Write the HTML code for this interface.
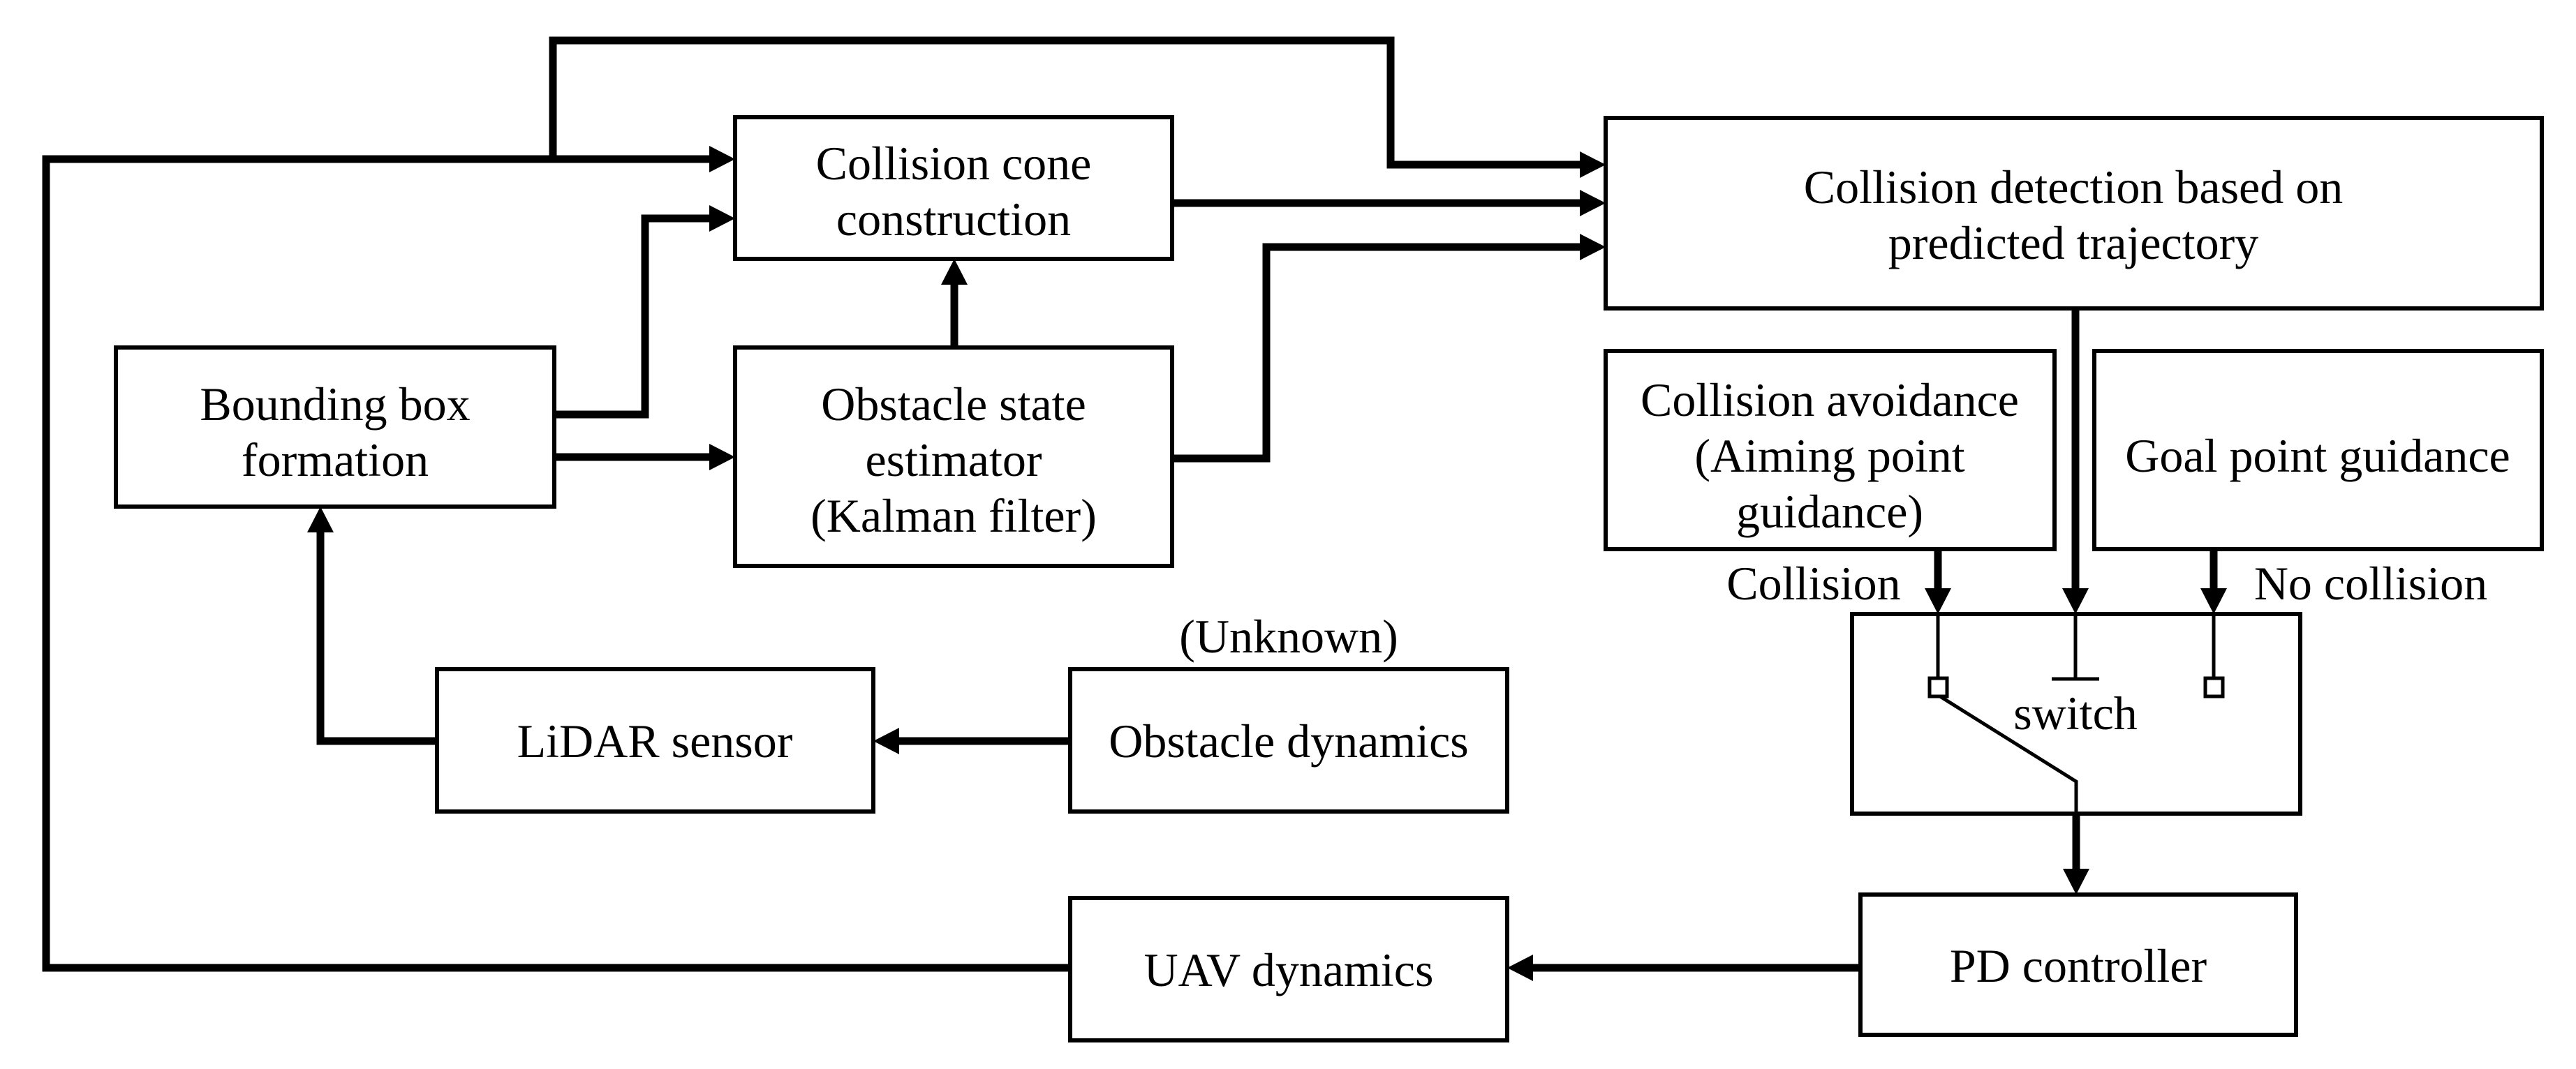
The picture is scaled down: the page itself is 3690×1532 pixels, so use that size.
<!DOCTYPE html>
<html><head><meta charset="utf-8"><style>
html,body{margin:0;padding:0;background:#fff}
svg{display:block}
text{font-family:"Liberation Serif",serif;font-size:68px;fill:#000;text-anchor:middle}
</style></head><body>
<svg width="3690" height="1532" viewBox="0 0 3690 1532" xmlns="http://www.w3.org/2000/svg">
<g fill="none" stroke="#000" stroke-width="6">
<rect x="1053" y="168" width="626" height="203"/>
<rect x="2300" y="169" width="1341" height="273"/>
<rect x="166" y="498" width="628" height="228"/>
<rect x="1053" y="498" width="626" height="313"/>
<rect x="2300" y="503" width="643" height="284"/>
<rect x="3000" y="503" width="641" height="284"/>
<rect x="2653" y="880" width="642" height="286"/>
<rect x="626" y="959" width="625" height="204"/>
<rect x="1533" y="959" width="626" height="204"/>
<rect x="1533" y="1287" width="626" height="204"/>
<rect x="2665" y="1282" width="624" height="201"/>
</g>
<g fill="none" stroke="#000" stroke-width="11" stroke-linejoin="miter">
<path d="M792,228 V58 H1992 V236 H2264"/>
<path d="M1533,1387 H66 V228 H1016"/>
<path d="M1679,291 H2264"/>
<path d="M1679,657 H1814 V354 H2264"/>
<path d="M794,594 H924 V313 H1016"/>
<path d="M794,655 H1016"/>
<path d="M1367,498 V408"/>
<path d="M626,1062 H459 V763"/>
<path d="M1533,1062 H1288"/>
<path d="M2665,1387 H2196"/>
<path d="M2776,787 V843"/>
<path d="M2973,442 V843"/>
<path d="M3171,787 V843"/>
<path d="M2974,1166 V1245"/>
</g>
<g fill="#000">
<polygon points="2300,236 2263,217 2263,255"/>
<polygon points="2300,291 2263,272 2263,310"/>
<polygon points="2300,354 2263,335 2263,373"/>
<polygon points="1053,228 1016,209 1016,247"/>
<polygon points="1053,313 1016,294 1016,332"/>
<polygon points="1053,655 1016,636 1016,674"/>
<polygon points="1367,371 1348,408 1386,408"/>
<polygon points="459,726 440,763 478,763"/>
<polygon points="1251,1062 1288,1043 1288,1081"/>
<polygon points="2159,1387 2196,1368 2196,1406"/>
<polygon points="2776,880 2757,843 2795,843"/>
<polygon points="2973,880 2954,843 2992,843"/>
<polygon points="3171,880 3152,843 3190,843"/>
<polygon points="2974,1282 2955,1245 2993,1245"/>
</g>
<g fill="none" stroke="#000" stroke-width="5">
<path d="M2776,880 V972"/>
<path d="M3171,880 V972"/>
<path d="M2973,880 V973"/>
<path d="M2939,973 H3007"/>
<rect x="2764" y="972" width="25" height="26"/>
<rect x="3159" y="972" width="25" height="26"/>
<path d="M2779,998 L2974,1120 V1166"/>
</g>
<text x="1366" y="257">Collision cone</text>
<text x="1366" y="337">construction</text>
<text x="2970" y="291">Collision detection based on</text>
<text x="2970" y="371">predicted trajectory</text>
<text x="480" y="602">Bounding box</text>
<text x="480" y="682">formation</text>
<text x="1366" y="602">Obstacle state</text>
<text x="1366" y="682">estimator</text>
<text x="1366" y="762">(Kalman filter)</text>
<text x="2621" y="596">Collision avoidance</text>
<text x="2621" y="676">(Aiming point</text>
<text x="2621" y="756">guidance)</text>
<text x="3320" y="676">Goal point guidance</text>
<text x="2598" y="859">Collision</text>
<text x="3396" y="859">No collision</text>
<text x="2973" y="1045">switch</text>
<text x="938" y="1085">LiDAR sensor</text>
<text x="1846" y="1085">Obstacle dynamics</text>
<text x="1846" y="935">(Unknown)</text>
<text x="1846" y="1413">UAV dynamics</text>
<text x="2977" y="1407">PD controller</text>
</svg>
</body></html>
